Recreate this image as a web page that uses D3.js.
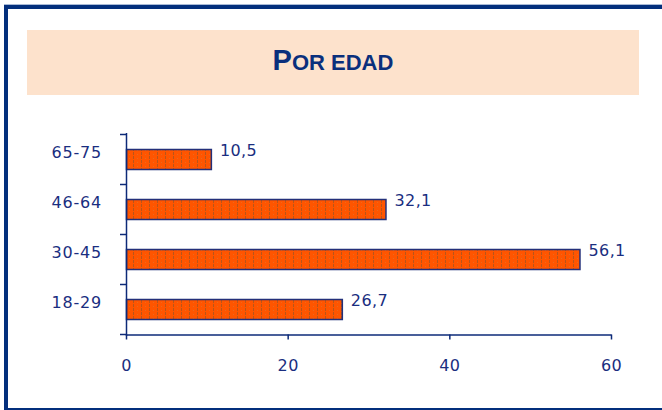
<!DOCTYPE html>
<html><head><meta charset="utf-8">
<script src="https://cdn.jsdelivr.net/npm/d3@7"></script>
<style>
html,body{margin:0;padding:0;background:#fff;}
svg{display:block;}
</style></head>
<body>
<svg id="chart" width="662" height="410"></svg>
<script>
const categories = ["65-75", "46-64", "30-45", "18-29"];
const values = [10.5, 32.1, 56.1, 26.7];
const valueLabels = ["10,5", "32,1", "56,1", "26,7"];
const xTicks = [0, 20, 40, 60];
const titleFirst = "P";
const titleRest = "OR EDAD";

const navy = "#0d2a78";
const textBlue = "#1a2e80";
const FONT = "'DejaVu Sans',Verdana,sans-serif";
const svg = d3.select("#chart");

// frame
svg.append("rect").attr("x",0).attr("y",0).attr("width",662).attr("height",410).attr("fill","#fff");
svg.append("rect").attr("x",4).attr("y",4).attr("width",658).attr("height",1).attr("fill","#a9bad6");
svg.append("rect").attr("x",4).attr("y",5).attr("width",658).attr("height",4).attr("fill","#032f7c");
svg.append("rect").attr("x",4).attr("y",5).attr("width",4).attr("height",405).attr("fill","#032f7c");
svg.append("rect").attr("x",4).attr("y",408).attr("width",658).attr("height",2).attr("fill","#032f7c");

// title box
svg.append("rect").attr("x",27).attr("y",30).attr("width",612).attr("height",65).attr("fill","#fde2cc");
const t = svg.append("text").attr("x",333).attr("y",70).attr("text-anchor","middle")
  .attr("font-family","'Liberation Sans Narrow','Arial Narrow','Liberation Sans',Arial,sans-serif")
  .attr("font-weight","bold").attr("fill","#0a2f7c");
t.append("tspan").attr("font-size",29).text(titleFirst);
t.append("tspan").attr("font-size",22).text(titleRest);

// pattern
const defs = svg.append("defs");
const pat = defs.append("pattern").attr("id","stripe").attr("patternUnits","userSpaceOnUse")
  .attr("width",8).attr("height",4).attr("x",127).attr("y",0);
pat.append("rect").attr("width",8).attr("height",4).attr("fill","#ff5500");
pat.append("rect").attr("x",6).attr("y",0).attr("width",1).attr("height",3).attr("fill","#b8551a");
pat.append("rect").attr("x",2).attr("y",2).attr("width",1).attr("height",1).attr("fill","#e86a20");

const x = d3.scaleLinear().domain([0,60]).range([126,611]);
const y = d3.scaleBand().domain(categories).range([134,334]).paddingInner(0.6).paddingOuter(0.3);
const band = d3.scaleBand().domain(categories).range([134,334]);

// bars
svg.selectAll("rect.bar").data(values).enter().append("rect").attr("class","bar")
  .attr("x",x(0)+0.5).attr("y",(d,i)=>y(categories[i])+0.5)
  .attr("width",d=>x(d)-x(0)).attr("height",y.bandwidth())
  .attr("fill","url(#stripe)").attr("stroke","#23307a").attr("stroke-width",1.5);

// value labels
svg.selectAll("text.val").data(values).enter().append("text").attr("class","val")
  .attr("x",d=>x(d)+9).attr("y",(d,i)=>y(categories[i])+y.bandwidth()/2-3)
  .attr("font-family",FONT).attr("font-size",16).attr("letter-spacing",0.4)
  .attr("fill",textBlue).text((d,i)=>valueLabels[i]);

// y axis
const yAxis = svg.append("g");
yAxis.append("line").attr("x1",126.5).attr("x2",126.5).attr("y1",133).attr("y2",336).attr("stroke",navy).attr("stroke-width",1.5);
const yBounds = categories.map(c=>band(c)).concat([334]);
yAxis.selectAll("line.tk").data(yBounds).enter().append("line").attr("class","tk")
  .attr("x1",120).attr("x2",126.5).attr("y1",d=>d+0.5).attr("y2",d=>d+0.5).attr("stroke",navy).attr("stroke-width",1.5);
yAxis.selectAll("text").data(categories).enter().append("text")
  .attr("x",102).attr("y",d=>band(d)+band.bandwidth()/2-1).attr("text-anchor","end")
  .attr("font-family",FONT).attr("font-size",16).attr("letter-spacing",0.8)
  .attr("fill",textBlue).text(d=>d);

// x axis
const xAxis = svg.append("g").attr("transform","translate(0,334.5)")
  .call(d3.axisBottom(x).tickValues(xTicks).tickSize(5).tickSizeOuter(0).tickPadding(20));
xAxis.select(".domain").attr("stroke",navy).attr("stroke-width",1.5);
xAxis.selectAll(".tick line").attr("stroke",navy).attr("stroke-width",1.5);
xAxis.selectAll(".tick text").attr("fill",textBlue).attr("font-size",16).attr("letter-spacing",0.4)
  .attr("font-family",FONT);
</script>
</body></html>
